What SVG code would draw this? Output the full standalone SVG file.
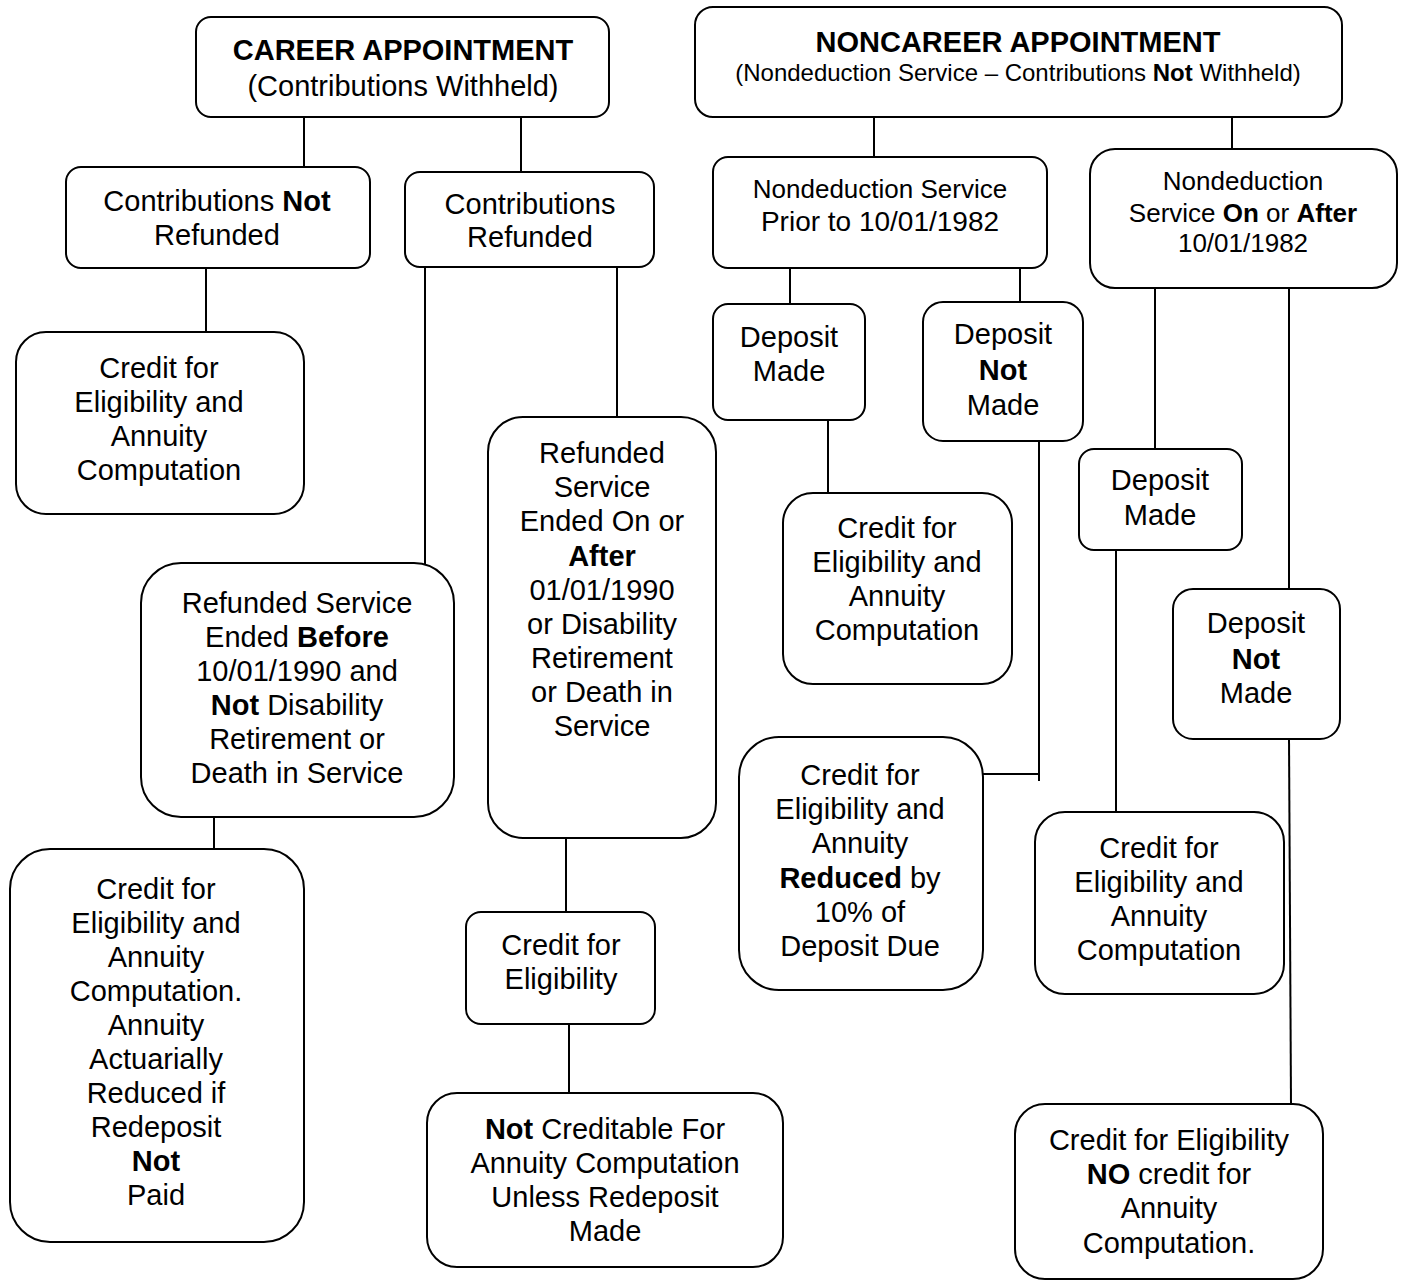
<svg xmlns="http://www.w3.org/2000/svg" width="1403" height="1281" viewBox="0 0 1403 1281">
<style>
.box{fill:#fff;stroke:#000;stroke-width:2}
.c{stroke:#000;stroke-width:2;fill:none}
text{font-family:"Liberation Sans",Arial,Helvetica,sans-serif;font-size:29px;text-anchor:middle;fill:#000}
.b{font-weight:bold}
</style>
<rect width="1403" height="1281" fill="#fff"/>
<g id="connectors">
<line class="c" x1="304" y1="117" x2="304" y2="167"/>
<line class="c" x1="521" y1="117" x2="521" y2="173"/>
<line class="c" x1="206" y1="268" x2="206" y2="332"/>
<line class="c" x1="425" y1="267" x2="425" y2="573"/>
<line class="c" x1="617" y1="267" x2="617" y2="420"/>
<line class="c" x1="214" y1="811" x2="214" y2="849"/>
<line class="c" x1="566" y1="828" x2="566" y2="914"/>
<line class="c" x1="569" y1="1021" x2="569" y2="1094"/>
<line class="c" x1="874" y1="117" x2="874" y2="158"/>
<line class="c" x1="1232" y1="117" x2="1232" y2="149"/>
<line class="c" x1="790" y1="268" x2="790" y2="304"/>
<line class="c" x1="1020" y1="268" x2="1020" y2="302"/>
<line class="c" x1="828" y1="417" x2="828" y2="493"/>
<line class="c" x1="1039" y1="435" x2="1039" y2="781"/>
<line class="c" x1="983" y1="774" x2="1039" y2="774"/>
<line class="c" x1="1155" y1="284" x2="1155" y2="458"/>
<line class="c" x1="1289" y1="288" x2="1289" y2="594"/>
<line class="c" x1="1116" y1="549" x2="1116" y2="817"/>
<line class="c" x1="1289" y1="737" x2="1291" y2="1104"/>
</g>
<g id="career">
<rect class="box" x="196" y="17" width="413" height="100" rx="15"/>
<text x="403" y="60" class="b">CAREER APPOINTMENT</text>
<text x="403" y="96">(Contributions Withheld)</text>
</g>
<g id="noncareer">
<rect class="box" x="695" y="7" width="647" height="110" rx="18"/>
<text x="1018" y="52" class="b">NONCAREER APPOINTMENT</text>
<text x="1018" y="81" style="font-size:24px">(Nondeduction Service – Contributions <tspan class="b">Not</tspan> Withheld)</text>
</g>
<g id="not-refunded">
<rect class="box" x="66" y="167" width="304" height="101" rx="15"/>
<text x="217" y="211">Contributions <tspan class="b">Not</tspan></text>
<text x="217" y="245">Refunded</text>
</g>
<g id="refunded">
<rect class="box" x="405" y="172" width="249" height="95" rx="15"/>
<text x="530" y="214">Contributions</text>
<text x="530" y="247">Refunded</text>
</g>
<g id="credit-1">
<rect class="box" x="16" y="332" width="288" height="182" rx="30"/>
<text x="159" y="378">Credit for</text>
<text x="159" y="412">Eligibility and</text>
<text x="159" y="446">Annuity</text>
<text x="159" y="480">Computation</text>
</g>
<g id="refunded-before">
<rect class="box" x="141" y="563" width="313" height="254" rx="40"/>
<text x="297" y="613">Refunded Service</text>
<text x="297" y="647">Ended <tspan class="b">Before</tspan></text>
<text x="297" y="681">10/01/1990 and</text>
<text x="297" y="715"><tspan class="b">Not</tspan> Disability</text>
<text x="297" y="749">Retirement or</text>
<text x="297" y="783">Death in Service</text>
</g>
<g id="refunded-after">
<rect class="box" x="488" y="417" width="228" height="421" rx="35"/>
<text x="602" y="463">Refunded</text>
<text x="602" y="497">Service</text>
<text x="602" y="531">Ended On or</text>
<text x="602" y="566" class="b">After</text>
<text x="602" y="600">01/01/1990</text>
<text x="602" y="634">or Disability</text>
<text x="602" y="668">Retirement</text>
<text x="602" y="702">or Death in</text>
<text x="602" y="736">Service</text>
</g>
<g id="credit-eligibility">
<rect class="box" x="466" y="912" width="189" height="112" rx="15"/>
<text x="561" y="955">Credit for</text>
<text x="561" y="989">Eligibility</text>
</g>
<g id="not-creditable">
<rect class="box" x="427" y="1093" width="356" height="174" rx="30"/>
<text x="605" y="1139"><tspan class="b">Not</tspan> Creditable For</text>
<text x="605" y="1173">Annuity Computation</text>
<text x="605" y="1207">Unless Redeposit</text>
<text x="605" y="1241">Made</text>
</g>
<g id="credit-actuarial">
<rect class="box" x="10" y="849" width="294" height="393" rx="40"/>
<text x="156" y="899">Credit for</text>
<text x="156" y="933">Eligibility and</text>
<text x="156" y="967">Annuity</text>
<text x="156" y="1001">Computation.</text>
<text x="156" y="1035">Annuity</text>
<text x="156" y="1069">Actuarially</text>
<text x="156" y="1103">Reduced if</text>
<text x="156" y="1137">Redeposit</text>
<text x="156" y="1171" class="b">Not</text>
<text x="156" y="1205">Paid</text>
</g>
<g id="prior-1982">
<rect class="box" x="713" y="157" width="334" height="111" rx="15"/>
<text x="880" y="198" style="font-size:26px">Nondeduction Service</text>
<text x="880" y="231" style="font-size:28px">Prior to 10/01/1982</text>
</g>
<g id="after-1982">
<rect class="box" x="1090" y="149" width="307" height="139" rx="25"/>
<text x="1243" y="190" style="font-size:26px">Nondeduction</text>
<text x="1243" y="222" style="font-size:26px">Service <tspan class="b">On</tspan> or <tspan class="b">After</tspan></text>
<text x="1243" y="252" style="font-size:26px">10/01/1982</text>
</g>
<g id="deposit-made-1">
<rect class="box" x="713" y="304" width="152" height="116" rx="15"/>
<text x="789" y="347">Deposit</text>
<text x="789" y="381">Made</text>
</g>
<g id="deposit-not-made-1">
<rect class="box" x="923" y="302" width="160" height="139" rx="20"/>
<text x="1003" y="344">Deposit</text>
<text x="1003" y="380" class="b">Not</text>
<text x="1003" y="415">Made</text>
</g>
<g id="credit-2">
<rect class="box" x="783" y="493" width="229" height="191" rx="30"/>
<text x="897" y="538">Credit for</text>
<text x="897" y="572">Eligibility and</text>
<text x="897" y="606">Annuity</text>
<text x="897" y="640">Computation</text>
</g>
<g id="credit-reduced">
<rect class="box" x="739" y="737" width="244" height="253" rx="40"/>
<text x="860" y="785">Credit for</text>
<text x="860" y="819">Eligibility and</text>
<text x="860" y="853">Annuity</text>
<text x="860" y="888"><tspan class="b">Reduced</tspan> by</text>
<text x="860" y="922">10% of</text>
<text x="860" y="956">Deposit Due</text>
</g>
<g id="deposit-made-2">
<rect class="box" x="1079" y="449" width="163" height="101" rx="15"/>
<text x="1160" y="490">Deposit</text>
<text x="1160" y="525">Made</text>
</g>
<g id="deposit-not-made-2">
<rect class="box" x="1173" y="589" width="167" height="150" rx="20"/>
<text x="1256" y="633">Deposit</text>
<text x="1256" y="669" class="b">Not</text>
<text x="1256" y="703">Made</text>
</g>
<g id="credit-3">
<rect class="box" x="1035" y="812" width="249" height="182" rx="30"/>
<text x="1159" y="858">Credit for</text>
<text x="1159" y="892">Eligibility and</text>
<text x="1159" y="926">Annuity</text>
<text x="1159" y="960">Computation</text>
</g>
<g id="credit-no-annuity">
<rect class="box" x="1015" y="1104" width="308" height="175" rx="30"/>
<text x="1169" y="1150">Credit for Eligibility</text>
<text x="1169" y="1184"><tspan class="b">NO</tspan> credit for</text>
<text x="1169" y="1218">Annuity</text>
<text x="1169" y="1253">Computation.</text>
</g>
</svg>
